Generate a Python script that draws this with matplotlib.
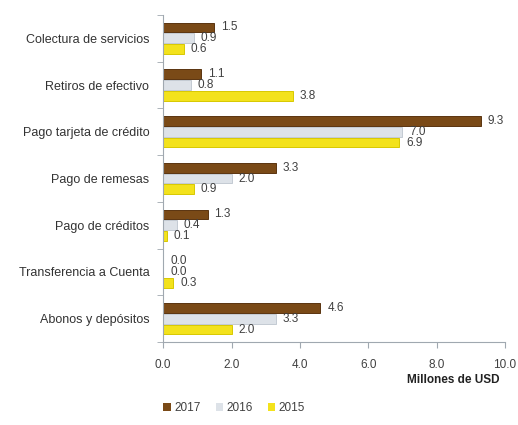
import numpy as np
import matplotlib.pyplot as plt
from matplotlib.patches import Patch

plt.rcParams['font.family'] = ['Liberation Sans', 'DejaVu Sans']

categorias = ['Colectura de servicios', 'Retiros de efectivo', 'Pago tarjeta de crédito',
              'Pago de remesas', 'Pago de créditos', 'Transferencia a Cuenta',
              'Abonos y depósitos']
v2017 = [1.5, 1.1, 9.3, 3.3, 1.3, 0.0, 4.6]
v2016 = [0.9, 0.8, 7.0, 2.0, 0.4, 0.0, 3.3]
v2015 = [0.6, 3.8, 6.9, 0.9, 0.1, 0.3, 2.0]
anios = ['2017', '2016', '2015']
colores = ['#7a4a17', '#dde2e8', '#f3e21c']
bordes = ['#5a3410', '#c3cad3', '#d8c800']

fig = plt.figure(figsize=(5.18, 4.25), dpi=100)
ax = fig.add_axes([0.315, 0.195, 0.66, 0.77])

y = np.arange(len(categorias))
h = 0.23
series = [v2017, v2016, v2015]
offs = [-h, 0, h]
for vals, off, col, ec in zip(series, offs, colores, bordes):
    ax.barh(y + off, vals, height=h * 0.9, color=col, edgecolor=ec, linewidth=0.7)
    for yi, v in zip(y + off, vals):
        ax.text(v + 0.2, yi, f'{v:.1f}', va='center', ha='left', fontsize=8.5, color='#404040')

ax.set_yticks(y)
ax.set_yticklabels(categorias, fontsize=9, color='#333333')
ax.set_ylim(len(categorias) - 0.5, -0.5)
ax.set_yticks(np.arange(-0.5, len(categorias)), minor=True)
ax.tick_params(axis='y', which='major', length=0, pad=10)
ax.tick_params(axis='y', which='minor', length=4, color='#a0a8b0')

ax.set_xlim(0, 10)
ax.set_xticks(np.arange(0, 10.1, 2))
ax.set_xticklabels([f'{t:.1f}' for t in np.arange(0, 10.1, 2)], fontsize=8.5, color='#404040')
ax.tick_params(axis='x', length=4, color='#a0a8b0', pad=8)

for s in ['top', 'right']:
    ax.spines[s].set_visible(False)
for s in ['left', 'bottom']:
    ax.spines[s].set_color('#a0a8b0')

ax.text(0.985, -0.115, 'Millones de USD', transform=ax.transAxes, ha='right', va='center',
        fontsize=8.5, fontweight='bold', color='#222222')

handles = [Patch(facecolor=c, edgecolor='none') for c in colores]
fig.legend(handles, anios, loc='center left', bbox_to_anchor=(0.295, 0.04), ncol=3,
           frameon=False, fontsize=8.5, handlelength=0.6, handleheight=0.6,
           handletextpad=0.3, columnspacing=1.3, labelcolor='#404040')

fig.savefig('out.png', dpi=100)
